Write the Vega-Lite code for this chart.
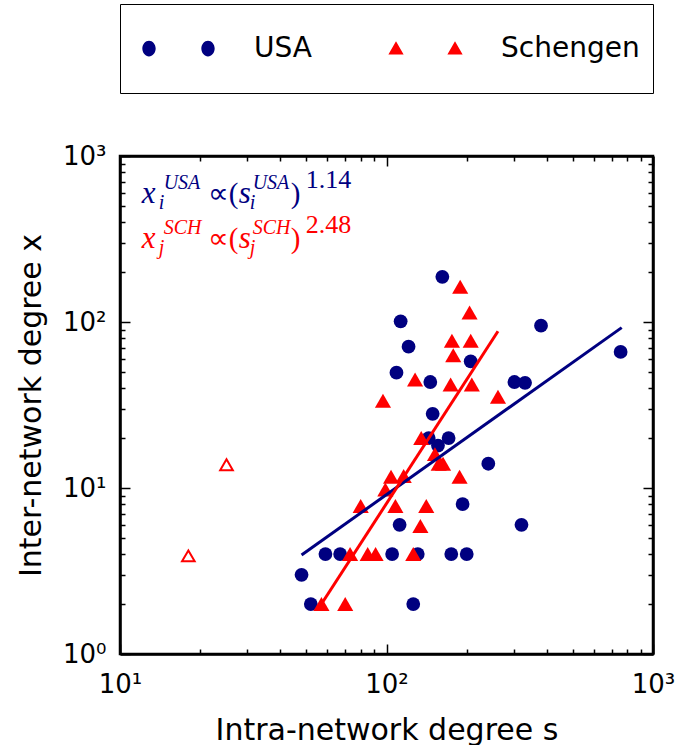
{
  "$schema": "https://vega.github.io/schema/vega-lite/v6.json",
  "padding": {"left": 16, "top": 3, "right": 0, "bottom": 0},
  "width": 533,
  "height": 498,
  "config": {
    "font": "DejaVu Sans",
    "view": {"stroke": "black", "strokeWidth": 2.5},
    "axis": {"grid": false, "domainColor": "black", "domainWidth": 2.5, "tickColor": "black", "tickWidth": 1.5, "labelColor": "black", "titleColor": "black", "titleFontWeight": "normal", "labelOverlap": false, "labelFlush": false}
  },
  "datasets": {
    "pts": [
      {"network": "USA", "s": 162, "x": 187},
      {"network": "USA", "s": 113, "x": 101},
      {"network": "USA", "s": 121, "x": 71},
      {"network": "USA", "s": 207, "x": 58},
      {"network": "USA", "s": 109, "x": 49.5},
      {"network": "USA", "s": 146, "x": 43.5},
      {"network": "USA", "s": 302, "x": 43.5},
      {"network": "USA", "s": 331, "x": 43},
      {"network": "USA", "s": 149, "x": 28},
      {"network": "USA", "s": 144, "x": 20},
      {"network": "USA", "s": 171, "x": 20},
      {"network": "USA", "s": 156, "x": 18},
      {"network": "USA", "s": 241, "x": 14},
      {"network": "USA", "s": 193, "x": 8},
      {"network": "USA", "s": 112, "x": 6},
      {"network": "USA", "s": 321, "x": 6},
      {"network": "USA", "s": 59, "x": 4},
      {"network": "USA", "s": 67, "x": 4},
      {"network": "USA", "s": 105, "x": 4},
      {"network": "USA", "s": 131, "x": 4},
      {"network": "USA", "s": 175, "x": 4},
      {"network": "USA", "s": 200, "x": 4},
      {"network": "USA", "s": 48, "x": 3},
      {"network": "USA", "s": 52, "x": 2},
      {"network": "USA", "s": 126, "x": 2},
      {"network": "USA", "s": 380, "x": 95},
      {"network": "USA", "s": 756, "x": 66},
      {"network": "Schengen", "s": 189, "x": 163},
      {"network": "Schengen", "s": 205, "x": 114},
      {"network": "Schengen", "s": 176, "x": 77},
      {"network": "Schengen", "s": 207, "x": 77},
      {"network": "Schengen", "s": 178, "x": 63},
      {"network": "Schengen", "s": 128, "x": 45},
      {"network": "Schengen", "s": 174, "x": 42},
      {"network": "Schengen", "s": 209, "x": 42},
      {"network": "Schengen", "s": 97, "x": 33.5},
      {"network": "Schengen", "s": 262, "x": 35.5},
      {"network": "Schengen", "s": 135, "x": 20},
      {"network": "Schengen", "s": 152, "x": 16},
      {"network": "Schengen", "s": 157, "x": 14},
      {"network": "Schengen", "s": 163, "x": 14},
      {"network": "Schengen", "s": 104, "x": 11.7},
      {"network": "Schengen", "s": 116, "x": 11.8},
      {"network": "Schengen", "s": 188, "x": 11.7},
      {"network": "Schengen", "s": 99, "x": 9.8},
      {"network": "Schengen", "s": 80, "x": 7.8},
      {"network": "Schengen", "s": 108, "x": 7.8},
      {"network": "Schengen", "s": 141, "x": 7.8},
      {"network": "Schengen", "s": 134, "x": 5.9},
      {"network": "Schengen", "s": 73, "x": 4},
      {"network": "Schengen", "s": 85, "x": 4},
      {"network": "Schengen", "s": 91, "x": 4},
      {"network": "Schengen", "s": 126, "x": 4},
      {"network": "Schengen", "s": 57, "x": 2},
      {"network": "Schengen", "s": 70, "x": 2}
    ],
    "open": [
      {"network": "Schengen", "s": 25.1, "x": 13.8},
      {"network": "Schengen", "s": 18.05, "x": 3.9}
    ],
    "fits": [
      {"network": "USA", "s": 48, "x": 3.95},
      {"network": "USA", "s": 763, "x": 92.5},
      {"network": "Schengen", "s": 57, "x": 2},
      {"network": "Schengen", "s": 262, "x": 87.9}
    ],
    "notes": [
      {"network": "USA", "s": 12.06, "x": 519, "idx": "i", "grp": "USA", "pw": "1.14"},
      {"network": "Schengen", "s": 12.06, "x": 279, "idx": "j", "grp": "SCH", "pw": "2.48"}
    ]
  },
  "layer": [
    {
      "data": {"name": "pts"},
      "transform": [{"filter": "datum.network === 'USA'"}],
      "mark": {"type": "point", "filled": true, "shape": "circle", "size": 190, "opacity": 1, "color": "#000080"},
      "encoding": {
        "x": {"field": "s", "type": "quantitative", "scale": {"type": "log", "domain": [10, 1000], "nice": false},
          "axis": {"orient": "bottom", "values": [10,20,30,40,50,60,70,80,90,100,200,300,400,500,600,700,800,900,1000],
            "labelExpr": "datum.value == 10 ? '10¹' : datum.value == 100 ? '10²' : datum.value == 1000 ? '10³' : ''",
            "tickSize": {"condition": {"test": "datum.value == 10 || datum.value == 100 || datum.value == 1000", "value": -10}, "value": -5},
            "labelFontSize": 26, "labelPadding": 27, "title": "Intra-network degree s", "titleFontSize": 30, "titlePadding": 13}},
        "y": {"field": "x", "type": "quantitative", "scale": {"type": "log", "domain": [1, 1000], "nice": false},
          "axis": {"orient": "left", "values": [1,2,3,4,5,6,7,8,9,10,20,30,40,50,60,70,80,90,100,200,300,400,500,600,700,800,900,1000],
            "labelExpr": "datum.value == 1 ? '10⁰' : datum.value == 10 ? '10¹' : datum.value == 100 ? '10²' : datum.value == 1000 ? '10³' : ''",
            "tickSize": {"condition": {"test": "datum.value == 1 || datum.value == 10 || datum.value == 100 || datum.value == 1000", "value": -10}, "value": -5},
            "labelFontSize": 26, "labelPadding": 24, "title": "Inter-network degree x", "titleFontSize": 30, "titlePadding": 16}}
      }
    },
    {
      "data": {"name": "pts"},
      "transform": [{"filter": "datum.network === 'Schengen'"}],
      "mark": {"type": "point", "filled": true, "shape": "triangle-up", "size": 260, "opacity": 1, "color": "#ff0000"},
      "encoding": {
        "x": {"field": "s", "type": "quantitative", "scale": {"type": "log", "domain": [10, 1000], "nice": false},
          "axis": {"orient": "top", "values": [10,20,30,40,50,60,70,80,90,100,200,300,400,500,600,700,800,900,1000], "labels": false, "title": null,
            "tickSize": {"condition": {"test": "datum.value == 10 || datum.value == 100 || datum.value == 1000", "value": -10}, "value": -5}}},
        "y": {"field": "x", "type": "quantitative", "scale": {"type": "log", "domain": [1, 1000], "nice": false},
          "axis": {"orient": "right", "values": [1,2,3,4,5,6,7,8,9,10,20,30,40,50,60,70,80,90,100,200,300,400,500,600,700,800,900,1000], "labels": false, "title": null,
            "tickSize": {"condition": {"test": "datum.value == 1 || datum.value == 10 || datum.value == 100 || datum.value == 1000", "value": -10}, "value": -5}}}
      }
    },
    {
      "data": {"name": "pts"},
      "transform": [{"filter": "false"}],
      "mark": {"type": "point", "filled": true, "size": 3969, "opacity": 1},
      "encoding": {
        "x": {"field": "s", "type": "quantitative", "scale": {"type": "log", "domain": [10, 1000], "nice": false}, "axis": null},
        "y": {"field": "x", "type": "quantitative", "scale": {"type": "log", "domain": [1, 1000], "nice": false}, "axis": null},
        "color": {"field": "network", "type": "nominal", "scale": {"domain": ["USA", "Schengen"], "range": ["#000080", "#ff0000"]},
          "legend": {"orient": "top", "direction": "horizontal", "title": null, "strokeColor": "black",
            "padding": 13, "symbolSize": 3969, "labelFontSize": 28, "labelColor": "black", "labelOffset": 58, "columnPadding": 68,
            "gridAlign": "none", "offset": 62, "symbolStrokeWidth": 0,
            "encode": {"legend": {"update": {"strokeWidth": {"value": 2.5}}}}}},
        "shape": {"field": "network", "type": "nominal", "scale": {"domain": ["USA", "Schengen"], "range": [
            "M0,-1L0,-1ZM0,1L0,1ZM-0.28,0C-0.28,0.14 -0.38,0.25 -0.492,0.25C-0.604,0.25 -0.704,0.14 -0.704,0C-0.704,-0.14 -0.604,-0.25 -0.492,-0.25C-0.38,-0.25 -0.28,-0.14 -0.28,0ZM1.593,0C1.593,0.14 1.493,0.25 1.381,0.25C1.269,0.25 1.169,0.14 1.169,0C1.169,-0.14 1.269,-0.25 1.381,-0.25C1.493,-0.25 1.593,-0.14 1.593,0Z",
            "M0,-1L0,-1ZM0,1L0,1ZM-0.492,-0.23L-0.25,0.19L-0.734,0.19ZM1.381,-0.23L1.623,0.19L1.139,0.19Z"]},
          "legend": {"orient": "top", "direction": "horizontal", "title": null, "strokeColor": "black",
            "padding": 13, "symbolSize": 3969, "labelFontSize": 28, "labelColor": "black", "labelOffset": 58, "columnPadding": 68,
            "gridAlign": "none", "offset": 62, "symbolStrokeWidth": 0,
            "encode": {"legend": {"update": {"strokeWidth": {"value": 2.5}}}}}}
      }
    },
    {
      "data": {"name": "open"},
      "mark": {"type": "point", "filled": false, "shape": "triangle-up", "size": 160, "color": "#ff0000", "strokeWidth": 2, "opacity": 1},
      "encoding": {
        "x": {"field": "s", "type": "quantitative", "scale": {"type": "log", "domain": [10, 1000], "nice": false}, "axis": null},
        "y": {"field": "x", "type": "quantitative", "scale": {"type": "log", "domain": [1, 1000], "nice": false}, "axis": null}
      }
    },
    {
      "data": {"name": "fits"},
      "transform": [{"filter": "datum.network === 'USA'"}],
      "mark": {"type": "line", "color": "#000080", "strokeWidth": 3},
      "encoding": {
        "x": {"field": "s", "type": "quantitative", "scale": {"type": "log", "domain": [10, 1000], "nice": false}, "axis": null},
        "y": {"field": "x", "type": "quantitative", "scale": {"type": "log", "domain": [1, 1000], "nice": false}, "axis": null}
      }
    },
    {
      "data": {"name": "fits"},
      "transform": [{"filter": "datum.network === 'Schengen'"}],
      "mark": {"type": "line", "color": "#ff0000", "strokeWidth": 3},
      "encoding": {
        "x": {"field": "s", "type": "quantitative", "scale": {"type": "log", "domain": [10, 1000], "nice": false}, "axis": null},
        "y": {"field": "x", "type": "quantitative", "scale": {"type": "log", "domain": [1, 1000], "nice": false}, "axis": null}
      }
    },
    {
      "data": {"name": "notes"},
      "mark": {"type": "text", "align": "left", "baseline": "alphabetic", "font": "Liberation Serif", "fontStyle": "italic", "fontSize": 31},
      "encoding": {
        "x": {"field": "s", "type": "quantitative", "scale": {"type": "log", "domain": [10, 1000], "nice": false}, "axis": null},
        "y": {"field": "x", "type": "quantitative", "scale": {"type": "log", "domain": [1, 1000], "nice": false}, "axis": null},
        "text": {"value": "x"},
        "color": {"condition": {"test": "datum.network === 'USA'", "value": "#000080"}, "value": "#ff0000"}
      }
    },
    {
      "data": {"name": "notes"},
      "mark": {"type": "text", "align": "left", "baseline": "alphabetic", "font": "Liberation Serif", "fontStyle": "italic", "fontSize": 20, "dx": 17, "dy": 6},
      "encoding": {
        "x": {"field": "s", "type": "quantitative", "scale": {"type": "log", "domain": [10, 1000], "nice": false}, "axis": null},
        "y": {"field": "x", "type": "quantitative", "scale": {"type": "log", "domain": [1, 1000], "nice": false}, "axis": null},
        "text": {"field": "idx"},
        "color": {"condition": {"test": "datum.network === 'USA'", "value": "#000080"}, "value": "#ff0000"}
      }
    },
    {
      "data": {"name": "notes"},
      "mark": {"type": "text", "align": "left", "baseline": "alphabetic", "font": "Liberation Serif", "fontStyle": "italic", "fontSize": 20, "dx": 22, "dy": -14},
      "encoding": {
        "x": {"field": "s", "type": "quantitative", "scale": {"type": "log", "domain": [10, 1000], "nice": false}, "axis": null},
        "y": {"field": "x", "type": "quantitative", "scale": {"type": "log", "domain": [1, 1000], "nice": false}, "axis": null},
        "text": {"field": "grp"},
        "color": {"condition": {"test": "datum.network === 'USA'", "value": "#000080"}, "value": "#ff0000"}
      }
    },
    {
      "data": {"name": "notes"},
      "mark": {"type": "text", "align": "left", "baseline": "alphabetic", "font": "Liberation Serif", "fontSize": 29, "dx": 66},
      "encoding": {
        "x": {"field": "s", "type": "quantitative", "scale": {"type": "log", "domain": [10, 1000], "nice": false}, "axis": null},
        "y": {"field": "x", "type": "quantitative", "scale": {"type": "log", "domain": [1, 1000], "nice": false}, "axis": null},
        "text": {"value": "∝("},
        "color": {"condition": {"test": "datum.network === 'USA'", "value": "#000080"}, "value": "#ff0000"}
      }
    },
    {
      "data": {"name": "notes"},
      "mark": {"type": "text", "align": "left", "baseline": "alphabetic", "font": "Liberation Serif", "fontStyle": "italic", "fontSize": 31, "dx": 97},
      "encoding": {
        "x": {"field": "s", "type": "quantitative", "scale": {"type": "log", "domain": [10, 1000], "nice": false}, "axis": null},
        "y": {"field": "x", "type": "quantitative", "scale": {"type": "log", "domain": [1, 1000], "nice": false}, "axis": null},
        "text": {"value": "s"},
        "color": {"condition": {"test": "datum.network === 'USA'", "value": "#000080"}, "value": "#ff0000"}
      }
    },
    {
      "data": {"name": "notes"},
      "mark": {"type": "text", "align": "left", "baseline": "alphabetic", "font": "Liberation Serif", "fontStyle": "italic", "fontSize": 20, "dx": 108, "dy": 6},
      "encoding": {
        "x": {"field": "s", "type": "quantitative", "scale": {"type": "log", "domain": [10, 1000], "nice": false}, "axis": null},
        "y": {"field": "x", "type": "quantitative", "scale": {"type": "log", "domain": [1, 1000], "nice": false}, "axis": null},
        "text": {"field": "idx"},
        "color": {"condition": {"test": "datum.network === 'USA'", "value": "#000080"}, "value": "#ff0000"}
      }
    },
    {
      "data": {"name": "notes"},
      "mark": {"type": "text", "align": "left", "baseline": "alphabetic", "font": "Liberation Serif", "fontStyle": "italic", "fontSize": 20, "dx": 111, "dy": -14},
      "encoding": {
        "x": {"field": "s", "type": "quantitative", "scale": {"type": "log", "domain": [10, 1000], "nice": false}, "axis": null},
        "y": {"field": "x", "type": "quantitative", "scale": {"type": "log", "domain": [1, 1000], "nice": false}, "axis": null},
        "text": {"field": "grp"},
        "color": {"condition": {"test": "datum.network === 'USA'", "value": "#000080"}, "value": "#ff0000"}
      }
    },
    {
      "data": {"name": "notes"},
      "mark": {"type": "text", "align": "left", "baseline": "alphabetic", "font": "Liberation Serif", "fontSize": 29, "dx": 149},
      "encoding": {
        "x": {"field": "s", "type": "quantitative", "scale": {"type": "log", "domain": [10, 1000], "nice": false}, "axis": null},
        "y": {"field": "x", "type": "quantitative", "scale": {"type": "log", "domain": [1, 1000], "nice": false}, "axis": null},
        "text": {"value": ")"},
        "color": {"condition": {"test": "datum.network === 'USA'", "value": "#000080"}, "value": "#ff0000"}
      }
    },
    {
      "data": {"name": "notes"},
      "mark": {"type": "text", "align": "left", "baseline": "alphabetic", "font": "Liberation Serif", "fontSize": 26, "dx": 164, "dy": -15},
      "encoding": {
        "x": {"field": "s", "type": "quantitative", "scale": {"type": "log", "domain": [10, 1000], "nice": false}, "axis": null},
        "y": {"field": "x", "type": "quantitative", "scale": {"type": "log", "domain": [1, 1000], "nice": false}, "axis": null},
        "text": {"field": "pw"},
        "color": {"condition": {"test": "datum.network === 'USA'", "value": "#000080"}, "value": "#ff0000"}
      }
    }
  ],
  "resolve": {"axis": {"x": "independent", "y": "independent"}}
}
